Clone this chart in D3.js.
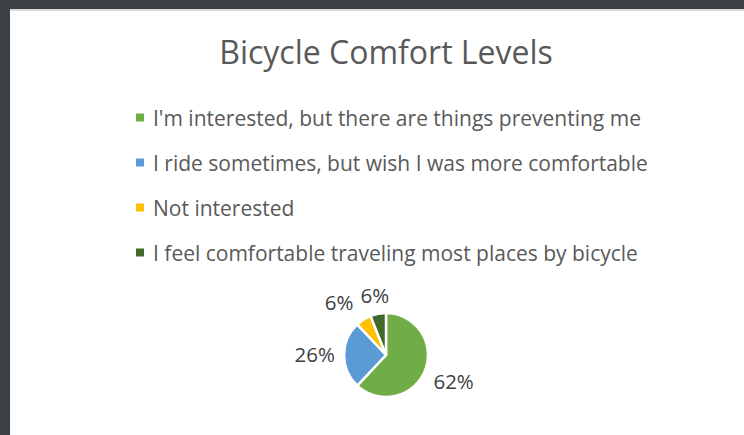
<!DOCTYPE html>
<html>
<head>
<meta charset="utf-8">
<script src="https://cdn.jsdelivr.net/npm/d3@7"></script>
<style>
  body { margin: 0; background: #3c4043; }
  svg { display: block; }
  text { font-family: "Open Sans", Lato, sans-serif; }
</style>
</head>
<body>
<svg id="chart" width="744" height="435"></svg>
<script>
const categories = [
    "I'm interested, but there are things preventing me",
    "I ride sometimes, but wish I was more comfortable",
    "Not interested",
    "I feel comfortable traveling most places by bicycle"
];
const values = [62, 26, 6, 6];
const colors = ["#70ad47", "#5b9bd5", "#ffc000", "#43682b"];
const chartTitle = "Bicycle Comfort Levels";

const svg = d3.select("#chart");
const width = 744, height = 435;

// frame: dark window chrome at top/left, white chart area
svg.append("rect").attr("width", width).attr("height", height).attr("fill", "#3c4043");
svg.append("rect").attr("x", 10).attr("y", 9).attr("width", width - 10).attr("height", height - 9).attr("fill", "#d9d9d9");
svg.append("rect").attr("x", 10).attr("y", 11).attr("width", width - 10).attr("height", height - 11).attr("fill", "#ffffff");

svg.append("text")
    .attr("x", 386).attr("y", 64)
    .attr("text-anchor", "middle")
    .attr("font-size", 32)
    .attr("fill", "#595959")
    .text(chartTitle);

// legend
const legendY = d3.scalePoint().domain(d3.range(categories.length)).range([118, 253]);
const legend = svg.append("g").selectAll("g").data(categories).join("g")
    .attr("transform", (d, i) => `translate(136,${legendY(i)})`);
legend.append("rect")
    .attr("x", 0).attr("y", -4.5).attr("width", 8).attr("height", 8)
    .attr("fill", (d, i) => colors[i]);
legend.append("text")
    .attr("x", 17).attr("y", 7.5)
    .attr("font-size", 21)
    .attr("fill", "#595959")
    .text(d => d);

// pie
const cx = 386, cy = 355, r = 42;
const pie = d3.pie().sort(null).value(d => d);
const arcs = pie(values);
const arc = d3.arc().innerRadius(0).outerRadius(r);
const g = svg.append("g").attr("transform", `translate(${cx},${cy})`);
g.selectAll("path").data(arcs).join("path")
    .attr("d", arc)
    .attr("fill", (d, i) => colors[i])
    .attr("stroke", "#ffffff")
    .attr("stroke-width", 2.5)
    .attr("stroke-linejoin", "round");

// labels outside end, box edge sitting a fixed distance from centre
const total = d3.sum(values);
const labelR = 51;
const labels = g.selectAll("text.lbl").data(arcs).join("text")
    .attr("class", "lbl")
    .attr("text-anchor", "middle")
    .attr("font-size", 20.5)
    .attr("fill", "#404040")
    .text(d => Math.round(d.data / total * 100) + "%");

const boxes = [];
labels.each(function (d) {
    const bb = this.getBBox();
    const w = bb.width, h = 18;
    const a = (d.startAngle + d.endAngle) / 2;
    const ux = Math.sin(a), uy = -Math.cos(a);
    const ext = Math.min(Math.abs(ux) > 1e-6 ? (w / 2) / Math.abs(ux) : Infinity,
                         Math.abs(uy) > 1e-6 ? (h / 2) / Math.abs(uy) : Infinity);
    const dist = labelR + ext;
    boxes.push({ node: this, x: ux * dist, y: uy * dist, w, h });
});

// simple overlap fix: push earlier label left if it collides with the next
for (let i = boxes.length - 2; i >= 0; i--) {
    const a = boxes[i], b = boxes[i + 1];
    const overlapX = (a.x + a.w / 2 + 7) - (b.x - b.w / 2);
    const overlapY = Math.abs(a.y - b.y) < (a.h + b.h) / 2;
    if (overlapX > 0 && overlapY && a.x < b.x) a.x -= overlapX;
}
boxes.forEach(b => {
    d3.select(b.node).attr("x", b.x).attr("y", b.y + 7);
});
</script>
</body>
</html>
